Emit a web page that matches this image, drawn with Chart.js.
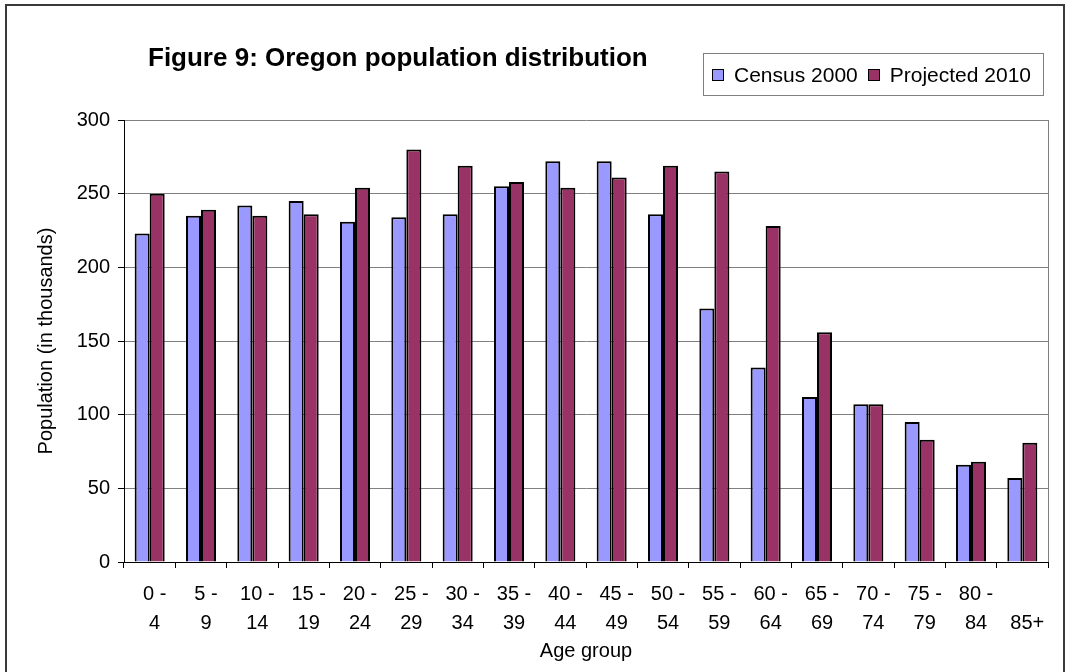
<!DOCTYPE html>
<html lang="en">
  <head>
    <meta charset="UTF-8" />
    <title>Figure 9: Oregon population distribution</title>
    <style>
      body {
        margin: 0;
        background: #fff;
        overflow: hidden;
        font-family: Arial, "Liberation Sans", sans-serif;
      }
      .frame {
        position: absolute;
        left: 5px;
        top: 4px;
        width: 1056px;
        height: 720px;
        border: 2px solid #3a3a3a;
      }
      #myChart {
        position: absolute;
        left: 0;
        top: 0;
      }
      .chart-title {
        position: absolute;
        left: 148px;
        top: 44px;
        margin: 0;
        font-size: 26px;
        line-height: 26px;
        font-weight: bold;
        color: #000;
        white-space: nowrap;
      }
      .legend {
        position: absolute;
        left: 703px;
        top: 53px;
        width: 341px;
        height: 43px;
        border: 1px solid #808080;
        display: flex;
        align-items: center;
        padding-left: 8px;
        box-sizing: border-box;
        font-size: 21px;
        color: #000;
      }
      .legend-item {
        display: flex;
        align-items: center;
        margin-right: 10px;
      }
      .legend-box {
        width: 10px;
        height: 10px;
        border: 1.5px solid #000;
        margin-right: 10px;
      }
    </style>
  </head>
  <body>
    <div class="frame"></div>
    <canvas id="myChart" width="1069" height="672"></canvas>
    <h1 class="chart-title">Figure 9: Oregon population distribution</h1>
    <div class="legend" id="legend"></div>
    <script src="https://cdn.jsdelivr.net/npm/chart.js"></script>
    <script>
      const ageGroups = [
        ["0 -", "4"],
        ["5 -", "9"],
        ["10 -", "14"],
        ["15 -", "19"],
        ["20 -", "24"],
        ["25 -", "29"],
        ["30 -", "34"],
        ["35 -", "39"],
        ["40 -", "44"],
        ["45 -", "49"],
        ["50 -", "54"],
        ["55 -", "59"],
        ["60 -", "64"],
        ["65 -", "69"],
        ["70 -", "74"],
        ["75 -", "79"],
        ["80 -", "84"],
        ["", "85+"]
      ];
      const seriesNames = ["Census 2000", "Projected 2010"];
      const census2000 = [
        223, 235, 242, 245, 231, 234, 236, 255, 272, 272, 236, 172, 132, 112,
        107, 95, 66, 57
      ];
      const projected2010 = [
        250, 239, 235, 236, 254, 280, 269, 258, 254, 261, 269, 265, 228, 156,
        107, 83, 68, 81
      ];
      const seriesColors = ["#9999ff", "#993366"];

      const axisFont = { family: "Arial, 'Liberation Sans', sans-serif", size: 20 };

      // right edge of the plot area (Excel draws a grey frame)
      const plotBorder = {
        id: "plotBorder",
        beforeDatasetsDraw(chart) {
          const { ctx, chartArea: a } = chart;
          ctx.save();
          ctx.strokeStyle = "#808080";
          ctx.lineWidth = 1;
          ctx.beginPath();
          ctx.moveTo(a.right + 0.5, a.top);
          ctx.lineTo(a.right + 0.5, a.bottom);
          ctx.stroke();
          ctx.restore();
        }
      };

      const chart = new Chart(document.querySelector("#myChart"), {
        type: "bar",
        data: {
          labels: ageGroups,
          datasets: [census2000, projected2010].map((values, i) => ({
            label: seriesNames[i],
            data: values,
            backgroundColor: seriesColors[i],
            borderColor: "#000",
            borderWidth: 2,
            borderSkipped: "bottom",
            categoryPercentage: 0.585,
            barPercentage: 1
          }))
        },
        options: {
          responsive: false,
          animation: false,
          layout: { padding: { top: 120, right: 21, left: 0, bottom: 0 } },
          plugins: {
            legend: { display: false },
            title: { display: false },
            tooltip: { enabled: false }
          },
          scales: {
            x: {
              offset: true,
              grid: {
                drawOnChartArea: false,
                tickLength: 6,
                tickColor: "#000",
                offset: true
              },
              border: { color: "#000", width: 1 },
              ticks: {
                color: "#000",
                font: { ...axisFont, lineHeight: 1.45 },
                padding: 12,
                labelOffset: 5,
                maxRotation: 0,
                autoSkip: false
              },
              title: {
                display: true,
                text: "Age group",
                color: "#000",
                font: axisFont,
                padding: { top: 0, bottom: 9 }
              },
              afterFit: scale => {
                scale.height = 110;
              }
            },
            y: {
              min: 0,
              max: 300,
              grid: {
                color: "#808080",
                tickLength: 6,
                tickColor: "#000"
              },
              border: { color: "#000", width: 1 },
              ticks: {
                stepSize: 50,
                color: "#000",
                font: axisFont,
                padding: 8
              },
              title: {
                display: true,
                text: "Population (in thousands)",
                color: "#000",
                font: axisFont,
                padding: { top: 34, bottom: 0 }
              },
              afterFit: scale => {
                scale.width = 124;
              }
            }
          }
        },
        plugins: [plotBorder]
      });

      const legend = document.querySelector("#legend");
      chart.data.datasets.forEach(ds => {
        const item = document.createElement("div");
        item.className = "legend-item";
        item.innerHTML =
          '<span class="legend-box" style="background:' +
          ds.backgroundColor +
          '"></span><span>' +
          ds.label +
          "</span>";
        legend.appendChild(item);
      });
    </script>
  </body>
</html>
